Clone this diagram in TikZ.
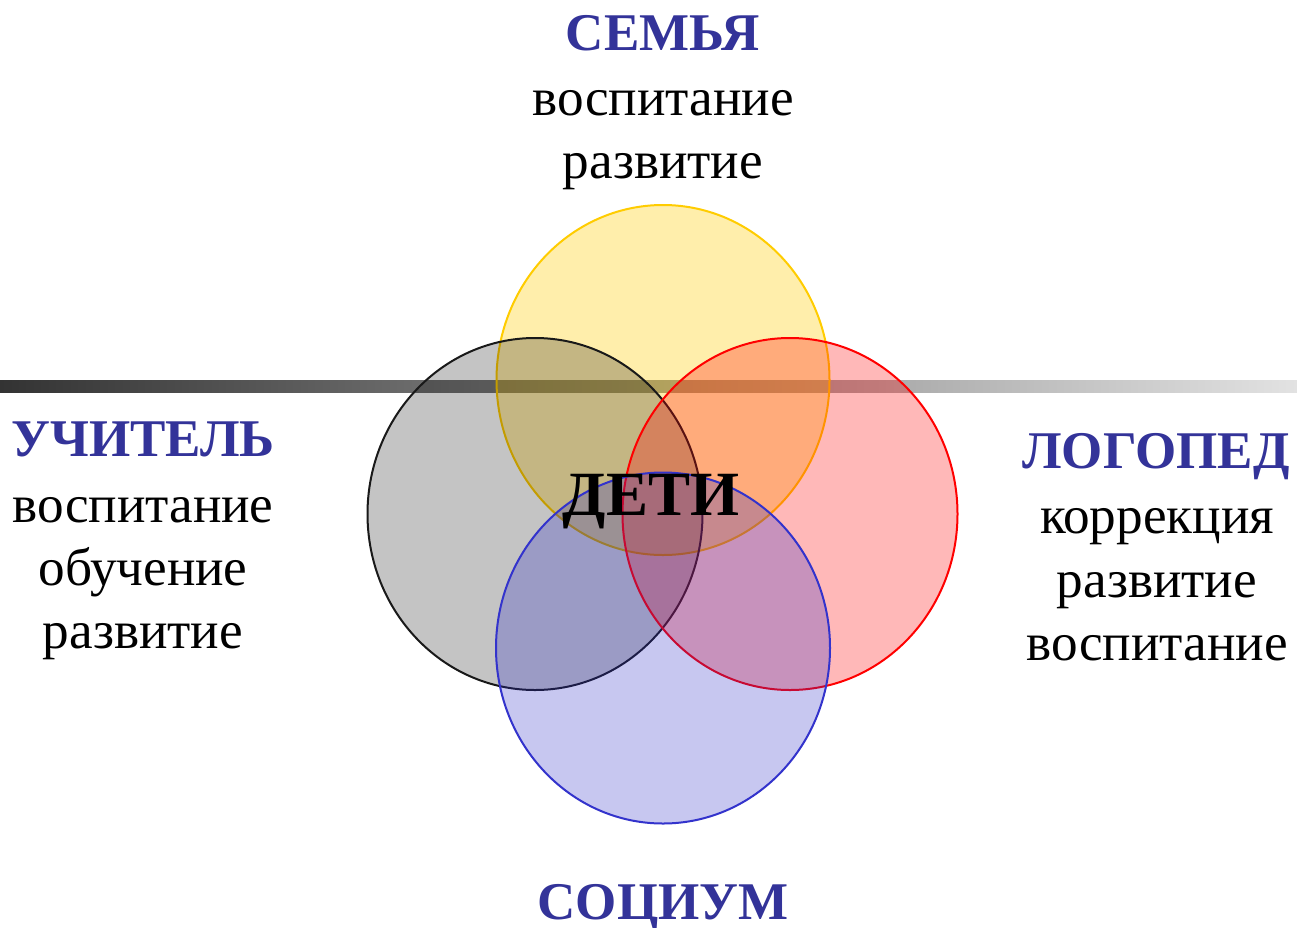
\documentclass[tikz,border=0pt]{standalone}
\usepackage{fontspec}
\setmainfont{Liberation Serif}
\definecolor{headc}{HTML}{333399}
\definecolor{barL}{HTML}{333333}
\definecolor{barR}{HTML}{E2E2E2}
\definecolor{yelc}{HTML}{FFCC00}
\definecolor{blc}{HTML}{2828C8}
\definecolor{blb}{HTML}{3333CC}
\begin{document}
\begin{tikzpicture}[x=1pt,y=-1pt,
  head/.style={font=\fontsize{53}{53}\selectfont\bfseries, text=headc, anchor=base, inner sep=0pt},
  body/.style={font=\fontsize{53.2}{53.2}\selectfont, text=black, anchor=base, inner sep=0pt},
  centre/.style={font=\fontsize{63}{63}\selectfont\bfseries, text=black, anchor=base, inner sep=0pt},
  ring/.style={line width=2pt}]
\path[use as bounding box, fill=white] (0,0) rectangle (1297,927);
\shade[left color=barL, right color=barR] (0,380) rectangle (1297,392);
% circles
\path[ring, draw=yelc, fill=yelc, fill opacity=0.33] (663,380) ellipse [x radius=166.5, y radius=175];
\path[ring, draw=black!90, fill=black, fill opacity=0.23] (535,514) ellipse [x radius=167.5, y radius=176];
\path[ring, draw=red, fill=red, fill opacity=0.28] (790,514) ellipse [x radius=167.5, y radius=176];
\path[ring, draw=blb, fill=blc, fill opacity=0.26] (663,648) ellipse [x radius=167, y radius=175.5];
% texts
\node[head] (semya) at (663,50) {СЕМЬЯ};
\node[body] (semya1) at (663,115) {воспитание};
\node[body] (semya2) at (663,178) {развитие};
\node[head] (uch) at (143,456) {УЧИТЕЛЬ};
\node[body] (uch1) at (143,522) {воспитание};
\node[body] (uch2) at (143,585) {обучение};
\node[body] (uch3) at (143,648) {развитие};
\node[head] (log) at (1156,468) {ЛОГОПЕД};
\node[body] (log1) at (1157,533) {коррекция};
\node[body] (log2) at (1157,597) {развитие};
\node[body] (log3) at (1157,660) {воспитание};
\node[head] (soc) at (663,919) {СОЦИУМ};
\node[centre] (deti) at (651,515) {ДЕТИ};
\end{tikzpicture}
\end{document}
